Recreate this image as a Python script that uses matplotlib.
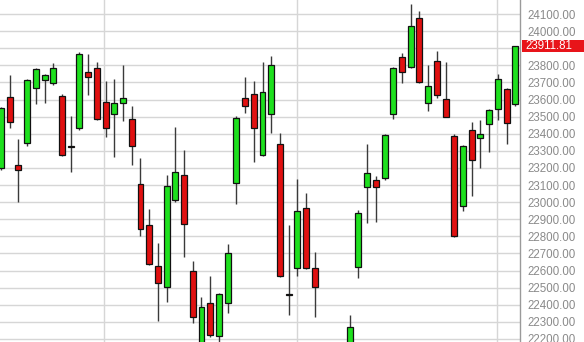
import matplotlib.pyplot as plt
from matplotlib.transforms import blended_transform_factory
from matplotlib.patches import Rectangle

# -----------------------------
# DATA
# -----------------------------

opens = [23200, 23615, 23217, 23346, 23667, 23714, 23697, 23622, 23325, 23435,
         23763, 23786, 23586, 23515, 23580, 23486, 23106, 22866, 22627, 22504,
         23013, 23159, 22598, 22150, 22411, 22218, 22411, 23112, 23609, 23632,
         23276, 23515, 23340, 22460, 22615, 22966, 22615, 22150, 22000, 22050,
         22120, 22621, 23089, 23130, 23141, 23515, 23849, 23790, 24077, 23580,
         23825, 23603, 23387, 22978, 23422, 23375, 23457, 23545, 23662, 23574]

highs = [23555, 23743, 23369, 23720, 23784, 23750, 23815, 23632, 23506, 23880,
         23866, 23818, 23708, 23720, 23802, 23564, 23258, 22960, 22761, 23159,
         23439, 23305, 22656, 22446, 22568, 22470, 22755, 23504, 23732, 23708,
         23819, 23854, 23404, 22866, 23135, 23053, 22709, 22170, 22100, 22150,
         22340, 22954, 23340, 23153, 23398, 23790, 23870, 24158, 24118, 23802,
         23884, 23819, 23398, 23332, 23469, 23480, 23545, 23749, 23668, 23913]

lows = [23190, 23434, 23001, 23328, 23574, 23582, 23685, 23270, 23176, 23422,
        23626, 23480, 23381, 23264, 23474, 23217, 22802, 22635, 22305, 22416,
        23000, 22679, 22294, 22100, 22212, 22175, 22352, 22989, 23521, 23235,
        23270, 23404, 22560, 22340, 22568, 22610, 22329, 21950, 21900, 21950,
        22080, 22557, 22878, 22884, 23130, 23486, 23697, 23785, 23697, 23533,
        23609, 23495, 22798, 22948, 23036, 23200, 23293, 23480, 23340, 23562]

closes = [23550, 23469, 23188, 23714, 23778, 23743, 23784, 23276, 23322, 23866,
          23733, 23486, 23434, 23580, 23609, 23328, 22843, 22639, 22527, 23094,
          23176, 22872, 22329, 22387, 22223, 22463, 22703, 23492, 23562, 23434,
          23644, 23802, 22568, 22457, 22948, 22615, 22504, 22000, 22050, 22100,
          22270, 22937, 23170, 23089, 23393, 23784, 23761, 24030, 23702, 23679,
          23626, 23498, 22802, 23328, 23246, 23398, 23539, 23720, 23463, 23911.81]

month_lines = [11.82, 33.96, 56.9]
y_ticks = list(range(22200, 24101, 100))
last_price = closes[-1]

# -----------------------------
# FIGURE
# -----------------------------

plt.rcParams['font.family'] = ['Liberation Sans', 'DejaVu Sans']

fig = plt.figure(figsize=(5.84, 3.42), dpi=100)
ax = fig.add_axes([0, 0, 520 / 584, 1])

x = list(range(len(closes)))
up = [c >= o for o, c in zip(opens, closes)]
colors = ['#1ee01e' if u else '#e01010' for u in up]
bottoms = [min(o, c) for o, c in zip(opens, closes)]
heights = [max(abs(c - o), 4) for o, c in zip(opens, closes)]

# wicks then bodies
ax.vlines(x, lows, highs, color='#3a3a3a', lw=1, zorder=2)
ax.bar(x, heights, bottom=bottoms, width=0.68, color=colors,
       edgecolor='#111111', linewidth=0.9, zorder=3)

# -----------------------------
# AXES STYLE
# -----------------------------

ax.set_xlim(-0.115, 59.54)
ax.set_ylim(22182, 24182)

# the 23900 label sits under the last price tag
labels = [f"{v:.2f}" if abs(v - last_price) > 50 else "" for v in y_ticks]
ax.set_yticks(y_ticks)
ax.set_yticklabels(labels)
ax.yaxis.tick_right()
ax.tick_params(axis='y', length=0, pad=5, labelsize=8.3, labelcolor='#8a8a8a')
ax.set_xticks([])

ax.grid(axis='y', color='#d6d6d6', lw=1, zorder=0)
for m in month_lines:
    ax.axvline(m, color='#d6d6d6', lw=1, zorder=0)

for side in ['top', 'left', 'bottom']:
    ax.spines[side].set_visible(False)
ax.spines['right'].set_color('#9a9a9a')
ax.spines['right'].set_linewidth(1)

# last price tag
trans = blended_transform_factory(ax.transAxes, ax.transData)
ax.add_patch(Rectangle((1.004, last_price - 36), 0.2, 72, transform=trans,
                       facecolor='#e8141a', edgecolor='none', clip_on=False,
                       zorder=5))
ax.text(1.0 + 5 / 520, last_price, f"{last_price:.2f}", transform=trans,
        ha='left', va='center', fontsize=8.3, color='white', zorder=6)

fig.savefig("out.png", dpi=100)
